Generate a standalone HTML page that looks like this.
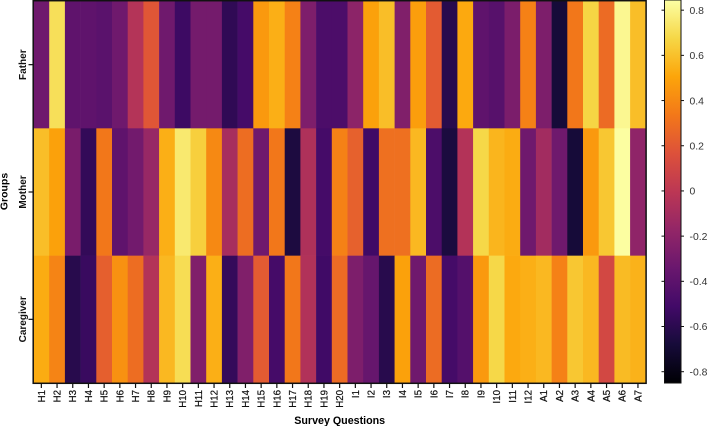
<!DOCTYPE html>
<html lang="en">
<head>
<meta charset="utf-8">
<title>Survey heatmap</title>
<style>
html,body{margin:0;padding:0;background:#fff;width:708px;height:426px;overflow:hidden}
svg{display:block;font-family:"Liberation Sans",Arial,sans-serif}
</style>
</head>
<body>
<svg id="chart" width="708" height="426" viewBox="0 0 708 426" xmlns="http://www.w3.org/2000/svg"></svg>
<script>
const questions = ["H1","H2","H3","H4","H5","H6","H7","H8","H9","H10","H11","H12","H13","H14","H15","H16","H17","H18","H19","H20","I1","I2","I3","I4","I5","I6","I7","I8","I9","I10","I11","I12","A1","A2","A3","A4","A5","A6","A7"];
const groups = ["Father","Mother","Caregiver"];
const fatherValues = [-0.32,0.71,-0.39,-0.39,-0.41,-0.32,-0.035,0.19,-0.32,-0.53,-0.30,-0.30,-0.58,-0.50,0.46,0.54,0.37,-0.26,-0.47,-0.47,-0.20,0.49,0.59,-0.25,0.48,0.21,-0.61,0.52,-0.39,-0.42,-0.27,0.37,-0.265,-0.68,0.33,0.67,0.28,0.81,0.59];
const motherValues = [0.59,0.49,-0.28,-0.57,0.33,-0.39,-0.31,-0.155,0.54,0.75,0.65,0.40,-0.09,0.29,-0.32,0.33,-0.655,-0.06,-0.50,0.37,0.235,-0.52,0.30,0.30,0.57,-0.47,-0.66,-0.04,0.68,0.56,0.53,-0.32,-0.11,-0.32,-0.68,0.46,0.62,0.84,-0.19];
const caregiverValues = [0.53,0.38,-0.61,-0.545,0.23,0.43,0.29,-0.04,0.57,0.70,-0.25,0.54,-0.56,-0.25,0.21,-0.50,0.33,-0.05,-0.52,0.28,-0.265,-0.36,-0.61,0.49,-0.32,0.285,-0.50,-0.435,0.46,0.68,0.52,0.54,0.57,0.37,0.62,0.57,0.11,0.58,0.55];
const colorbarTicks = [0.8,0.6,0.4,0.2,0,-0.2,-0.4,-0.6,-0.8];
const colorDomain = [-0.85,0.845];
const infernoPalette = ["#000004","#160b39","#420a68","#6a176e","#932667","#bc3754","#dd513a","#f37819","#fca50a","#f6d746","#fcffa4"];

const NS = "http://www.w3.org/2000/svg";
const svg = document.getElementById("chart");
const plot = {left:33.5, right:645.8, top:1, bottom:383};
const bar = {left:664.5, right:681};

function xScale(i){ return plot.left + i * (plot.right - plot.left) / questions.length; }
function yScale(i){ return plot.top + i * (plot.bottom - plot.top) / groups.length; }
function barScale(v){ return plot.bottom - (v - colorDomain[0]) / (colorDomain[1] - colorDomain[0]) * (plot.bottom - plot.top + 1) ; }
function hexToRgb(h){ return [parseInt(h.slice(1,3),16),parseInt(h.slice(3,5),16),parseInt(h.slice(5,7),16)]; }
function colorScale(v){
  const t = Math.max(0, Math.min(1, (v - colorDomain[0]) / (colorDomain[1] - colorDomain[0])));
  const p = t * (infernoPalette.length - 1);
  const i = Math.min(Math.floor(p), infernoPalette.length - 2);
  const f = p - i;
  const a = hexToRgb(infernoPalette[i]), b = hexToRgb(infernoPalette[i + 1]);
  return "rgb(" + a.map(function(c, k){ return Math.round(c + (b[k] - c) * f); }).join(",") + ")";
}
function make(tag, attrs, parent, text){
  const el = document.createElementNS(NS, tag);
  for (const k in attrs) el.setAttribute(k, attrs[k]);
  if (text !== undefined) el.textContent = text;
  (parent || svg).appendChild(el);
  return el;
}

const rows = [fatherValues, motherValues, caregiverValues];

// Heatmap cells
const cellsGroup = make("g", {});


rows.forEach(function(row, r){
  row.forEach(function(v, c){
    const cell = make("rect", {
      x: xScale(c), y: yScale(r),
      width: xScale(c + 1) - xScale(c) + 0.3,
      height: yScale(r + 1) - yScale(r) + 0.3,
      fill: colorScale(v)
    }, cellsGroup);
    
    
  });
});

// Plot frame
const frame = make("rect", {x:plot.left-0.3, y:plot.top-0.3, width:plot.right-plot.left+0.6, height:plot.bottom-plot.top+0.6, fill:"none", stroke:"#111", "stroke-width":1.5});



// X axis ticks and labels
questions.forEach(function(q, i){
  const cx = (xScale(i) + xScale(i + 1)) / 2;
  const tick = make("line", {x1:cx, x2:cx, y1:plot.bottom, y2:plot.bottom + 5, stroke:"#111", "stroke-width":1.2});
  
  
  const label = make("text", {
    transform:"translate(" + (cx + 3.4) + "," + (plot.bottom + 7) + ") rotate(-90)",
    "text-anchor":"end", "font-size":"9.7", fill:"#111", stroke:"#111", "stroke-width":"0.2"
  }, svg, q);
  
  
});

// Y axis ticks and labels
groups.forEach(function(g, i){
  const cy = (yScale(i) + yScale(i + 1)) / 2;
  const tick = make("line", {x1:plot.left - 5, x2:plot.left, y1:cy, y2:cy, stroke:"#111", "stroke-width":1.2});
  
  
  const label = make("text", {
    transform:"translate(26," + cy + ") rotate(-90)",
    "text-anchor":"middle", "font-size":"10", "font-weight":"bold", fill:"#111"
  }, svg, g);
  
  
});

// Axis titles
const yTitle = make("text", {transform:"translate(7.5," + 191.5 + ") rotate(-90)", "text-anchor":"middle", "font-size":"10.5", "font-weight":"bold", fill:"#000"}, svg, "Groups");


const xTitle = make("text", {x:339.7, y:424, "text-anchor":"middle", "font-size":"10.7", "font-weight":"bold", fill:"#000"}, svg, "Survey Questions");



// Colorbar
const defs = make("defs", {});
const grad = make("linearGradient", {id:"infernoGradient", x1:"0", y1:"1", x2:"0", y2:"0"}, defs);
infernoPalette.forEach(function(col, i){
  make("stop", {offset:(i / (infernoPalette.length - 1)), "stop-color":col}, grad);
});
const barRect = make("rect", {x:bar.left, y:plot.top - 1, width:bar.right - bar.left, height:plot.bottom - plot.top + 1, fill:"url(#infernoGradient)", stroke:"#111", "stroke-width":1});


colorbarTicks.forEach(function(v){
  const y = barScale(v);
  const tickL = make("line", {x1:bar.left - 3, x2:bar.left, y1:y, y2:y, stroke:"#111", "stroke-width":1});
  
  
  const tickR = make("line", {x1:bar.right, x2:bar.right + 3, y1:y, y2:y, stroke:"#111", "stroke-width":1});
  
  
  const label = make("text", {x:689.5, y:y + 3.7, "font-size":"10.4", fill:"#333"}, svg, String(v));
  
  
});
</script>
</body>
</html>
